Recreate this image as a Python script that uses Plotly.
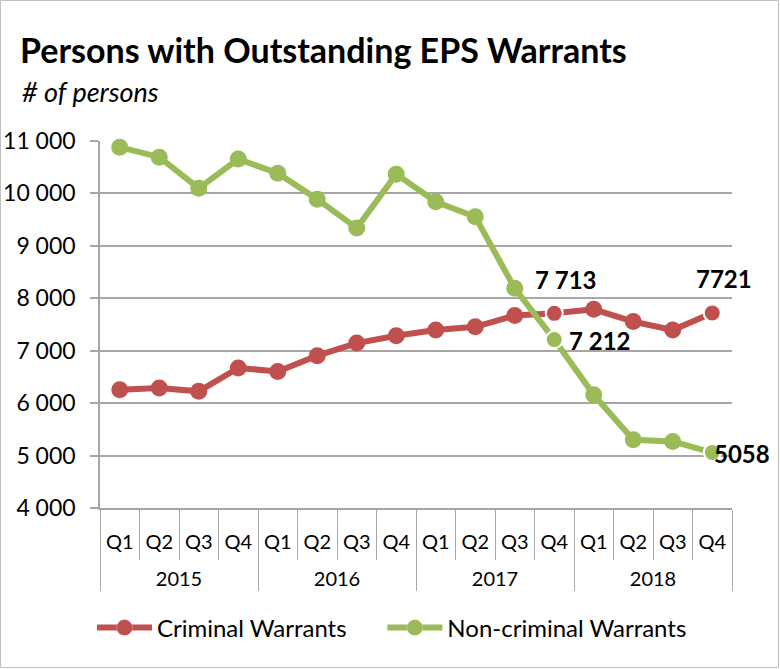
import plotly.graph_objects as go

years = ['2015'] * 4 + ['2016'] * 4 + ['2017'] * 4 + ['2018'] * 4
quarters = ['Q1', 'Q2', 'Q3', 'Q4'] * 4

criminal = [6255, 6290, 6225, 6670, 6605, 6905, 7145, 7285,
            7395, 7456, 7670, 7713, 7790, 7556, 7395, 7721]
non_criminal = [10882, 10692, 10101, 10655, 10387, 9891, 9339, 10368,
                9840, 9554, 8190, 7212, 6158, 5300, 5270, 5058]

criminal_labels = [''] * 11 + ['7 713'] + [''] * 3 + ['7721']
non_criminal_labels = [''] * 11 + ['7 212'] + [''] * 3 + ['5058']

RED = '#C0504D'
GREEN = '#9BBB59'
GRID = '#A6A6A6'
FONT = 'Lato'

W, H = 780, 669
L, R, T, B = 100, 48, 141, 161
pw, ph = W - L - R, H - T - B

# a blank line under each quarter spreads the quarter and year rows apart
x_cats = [years, [q + '<br> ' for q in quarters]]

fig = go.Figure()

white_ring = [2 if s else 0 for s in criminal_labels]

fig.add_trace(go.Scatter(
    x=x_cats, y=criminal,
    name='Criminal Warrants' + '\u00a0' * 5,
    mode='lines+markers',
    line=dict(color=RED, width=6),
    marker=dict(size=17, color=RED, line=dict(color='white', width=white_ring)),
    cliponaxis=False,
))

fig.add_trace(go.Scatter(
    x=x_cats, y=non_criminal,
    name='Non-criminal Warrants',
    mode='lines+markers',
    line=dict(color=GREEN, width=6),
    marker=dict(size=17, color=GREEN, line=dict(color='white', width=white_ring)),
    cliponaxis=False,
))

# data labels: red ones above the point, green ones to the right
annotations = []
for i, s in enumerate(criminal_labels):
    if s:
        annotations.append(dict(
            x=i, y=criminal[i], xref='x', yref='y', text='<b>%s</b>' % s,
            showarrow=False, xshift=12, yshift=34,
            font=dict(family=FONT, size=24, color='black'),
        ))
for i, s in enumerate(non_criminal_labels):
    if s:
        annotations.append(dict(
            x=i, y=non_criminal[i], xref='x', yref='y', text='<b>%s</b>' % s,
            showarrow=False, xanchor='left', xshift=13 if i < 15 else 0, yshift=-1,
            font=dict(family=FONT, size=24, color='black'),
        ))

annotations.append(dict(
    text='<b>Persons with Outstanding EPS Warrants</b>',
    xref='paper', yref='paper',
    x=(18 - L) / pw, xanchor='left',
    y=(T + ph - 49) / ph, yanchor='middle',
    showarrow=False,
    font=dict(family=FONT, size=34, color='black'),
))
annotations.append(dict(
    text='<i># of persons</i>',
    xref='paper', yref='paper',
    x=(20 - L) / pw, xanchor='left',
    y=(T + ph - 92) / ph, yanchor='middle',
    showarrow=False,
    font=dict(family=FONT, size=27, color='black'),
))

fig.update_layout(
    width=W, height=H,
    margin=dict(l=L, r=R, t=T, b=B),
    paper_bgcolor='white',
    plot_bgcolor='white',
    separators='. ',
    font=dict(family=FONT, size=20, color='black'),
    showlegend=True,
    legend=dict(
        orientation='h',
        x=(392 - L) / pw, xanchor='center',
        y=(T + ph - 628) / ph, yanchor='middle',
        font=dict(family=FONT, size=24, color='black'),
        itemwidth=55,
        traceorder='normal',
        bgcolor='rgba(0,0,0,0)',
    ),
    annotations=annotations,
    shapes=[dict(
        type='rect', xref='paper', yref='paper',
        x0=(0.5 - L) / pw, x1=(W - 1.5 - L) / pw,
        y0=(T + ph - (H - 1.5)) / ph, y1=(T + ph - 0.5) / ph,
        line=dict(color='#BFBFBF', width=1),
        layer='below',
    )],
)

fig.update_yaxes(
    range=[4000, 11000],
    dtick=1000,
    tickformat=',d',
    automargin=False,
    showgrid=True, gridcolor=GRID, gridwidth=1.5,
    showline=True, linecolor=GRID, linewidth=1.5,
    ticks='outside', ticklen=8, tickcolor=GRID, tickwidth=1.5,
    ticklabelstandoff=10,
    tickfont=dict(family=FONT, size=23, color='black'),
    zeroline=False,
)

fig.update_xaxes(
    type='multicategory',
    range=[-0.5, len(quarters) - 0.5],
    automargin=False,
    showline=True, linecolor=GRID, linewidth=1.5,
    showgrid=False,
    ticks='outside', tickson='boundaries', ticklen=50,
    tickcolor=GRID, tickwidth=1,
    tickangle=0,
    ticklabelstandoff=15,
    showdividers=True, dividercolor=GRID, dividerwidth=1,
    tickfont=dict(family=FONT, size=20, color='black'),
)

fig.write_html('out.html', config={'displayModeBar': False},
               post_script="document.body.style.margin = '0';")
